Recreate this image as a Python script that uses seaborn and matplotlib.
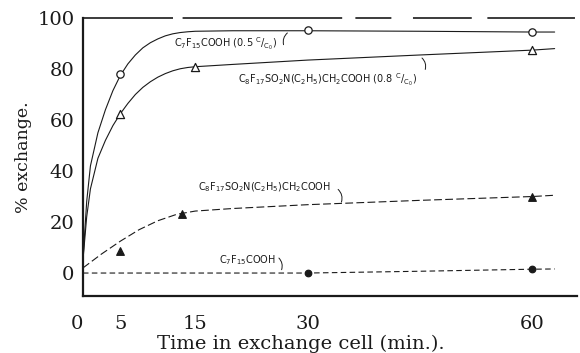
import matplotlib
matplotlib.use("Agg")
import matplotlib.pyplot as plt
import matplotlib.transforms as mtransforms
import seaborn as sns

sns.set_theme(style="white")
plt.rcParams["font.family"] = ["DejaVu Serif"]
plt.rcParams["mathtext.fontset"] = "dejavusans"

# Measured points
pfos_time = [5, 15, 60]                     # open triangles
pfos_pct = [62.5, 80.8, 87.5]
pfoa_time = [5, 30, 60]                     # open circles
pfoa_pct = [78, 95.3, 94.5]
pfos_blank_time = [5, 13.2, 60]             # filled triangles
pfos_blank_pct = [8.6, 23.3, 29.8]
pfoa_blank_time = [30, 60]                  # filled circles
pfoa_blank_pct = [0, 1.5]

# Hand-drawn smooth curves through the points
curve_pfoa_t = [0, 0.5, 1, 2, 3, 4, 5, 6, 7, 8, 9, 10, 11, 12, 13, 14, 15, 20, 30, 45, 60, 63]
curve_pfoa_y = [5, 28, 42, 55, 64, 71.5, 77.5, 82, 85.5, 88.3, 90.3, 91.8, 93, 93.8, 94.3, 94.6, 94.8, 95, 95, 94.8, 94.5, 94.5]
curve_pfos_t = [0, 0.5, 1, 2, 3, 4, 5, 6, 7, 8, 9, 10, 11, 12, 13, 14, 15, 20, 30, 45, 60, 63]
curve_pfos_y = [5, 22, 33, 45, 52, 57.8, 62.5, 66.5, 70, 72.8, 75, 76.8, 78.2, 79.3, 80.1, 80.6, 80.9, 81.8, 83.5, 85.5, 87.4, 88]
curve_pfos_blank_t = [0, 2.5, 5, 7.5, 10, 12.5, 15, 20, 30, 45, 60, 63]
curve_pfos_blank_y = [2, 7.5, 12.5, 17, 20.5, 23, 24.3, 25.3, 26.8, 28.5, 30, 30.5]
curve_pfoa_blank_t = [0, 15, 30, 45, 60, 63]
curve_pfoa_blank_y = [0, 0, 0, 0.7, 1.5, 1.6]

x_ticks = [0, 5, 15, 30, 60]
y_ticks = [0, 20, 40, 60, 80, 100]

fig = plt.figure(figsize=(5.8, 3.53), dpi=100)
ax = fig.add_axes([0.143, 0.1615, 0.852, 0.7875])

ink = "#1a1a1a"
curves = [
    (curve_pfoa_t, curve_pfoa_y, "-"),
    (curve_pfos_t, curve_pfos_y, "-"),
    (curve_pfos_blank_t, curve_pfos_blank_y, (0, (7, 3))),
    (curve_pfoa_blank_t, curve_pfoa_blank_y, (0, (5, 3))),
]
for t, y, ls in curves:
    sns.lineplot(x=t, y=y, ax=ax, color=ink, lw=0.8, linestyle=ls, sort=False)

pts = [
    (pfoa_time, pfoa_pct, "o", "white", 28),
    (pfos_time, pfos_pct, "^", "white", 34),
    (pfos_blank_time, pfos_blank_pct, "^", ink, 30),
    (pfoa_blank_time, pfoa_blank_pct, "o", ink, 22),
]
for t, y, m, fc, s in pts:
    sns.scatterplot(x=t, y=y, ax=ax, marker=m, s=s, facecolor=fc,
                    edgecolor=ink, linewidth=0.9, zorder=5)

ax.set_xlim(0, 66)
ax.set_ylim(-9, 100)
ax.set_xticks(x_ticks)
ax.set_xticklabels([str(v) for v in x_ticks])
ax.set_yticks(y_ticks)
ax.set_yticklabels([str(v) for v in y_ticks])
ax.tick_params(axis="x", direction="in", length=5, width=1, pad=14, labelsize=14, colors=ink)
ax.tick_params(axis="y", direction="in", length=4, width=1, pad=6, labelsize=14, colors=ink)
ax.xaxis.get_major_ticks()[0].tick1line.set_visible(False)
zero_lab = ax.get_xticklabels()[0]
zero_lab.set_transform(zero_lab.get_transform()
                       + mtransforms.ScaledTranslation(-6 / 100, 0, fig.dpi_scale_trans))

for side in ["left", "bottom"]:
    ax.spines[side].set_linewidth(1.6)
    ax.spines[side].set_color(ink)
ax.spines["right"].set_visible(False)
ax.spines["top"].set_visible(False)
top_dash = [v / 1.389 for v in (75, 8, 133, 11, 30, 18, 49, 13, 73, 20, 70)]
ax.plot([0, 66], [100, 100], color=ink, lw=1.2, linestyle=(0, tuple(top_dash)), clip_on=False)

ax.set_xlabel("Time in exchange cell (min.).", fontsize=14, color=ink, labelpad=2)
ax.xaxis.set_label_coords(0.44, -0.14)
ax.set_ylabel("% exchange.", fontsize=12.5, color=ink, labelpad=4)

lab_kw = dict(fontsize=7, color=ink, ha="center", va="center", family="DejaVu Sans")
ax.text(19.1, 89.8, r"$\mathrm{C_7F_{15}COOH\ (0.5\ {}^{C}/_{C_0})}$", **lab_kw)
ax.text(32.6, 75.7, r"$\mathrm{C_8F_{17}SO_2N(C_2H_5)CH_2COOH\ (0.8\ {}^{C}/_{C_0})}$", **lab_kw)
ax.text(24.2, 33.7, r"$\mathrm{C_8F_{17}SO_2N(C_2H_5)CH_2COOH}$", **lab_kw)
ax.text(22, 5.1, r"$\mathrm{C_7F_{15}COOH}$", **lab_kw)

arrow = dict(arrowstyle="-", color=ink, lw=0.7, connectionstyle="arc3,rad=-0.4")
ax.annotate("", xy=(27.6, 94.8), xytext=(26.9, 88.5), arrowprops=arrow)
ax.annotate("", xy=(45, 85), xytext=(45.6, 78.8), arrowprops=dict(arrow, connectionstyle="arc3,rad=0.4"))
ax.annotate("", xy=(34.4, 26.8), xytext=(33.8, 33.5), arrowprops=dict(arrow, connectionstyle="arc3,rad=-0.4"))
ax.annotate("", xy=(26.4, 0.3), xytext=(25.9, 6.6), arrowprops=dict(arrow, connectionstyle="arc3,rad=-0.4"))

fig.savefig("out.png", dpi=100, facecolor="white")
